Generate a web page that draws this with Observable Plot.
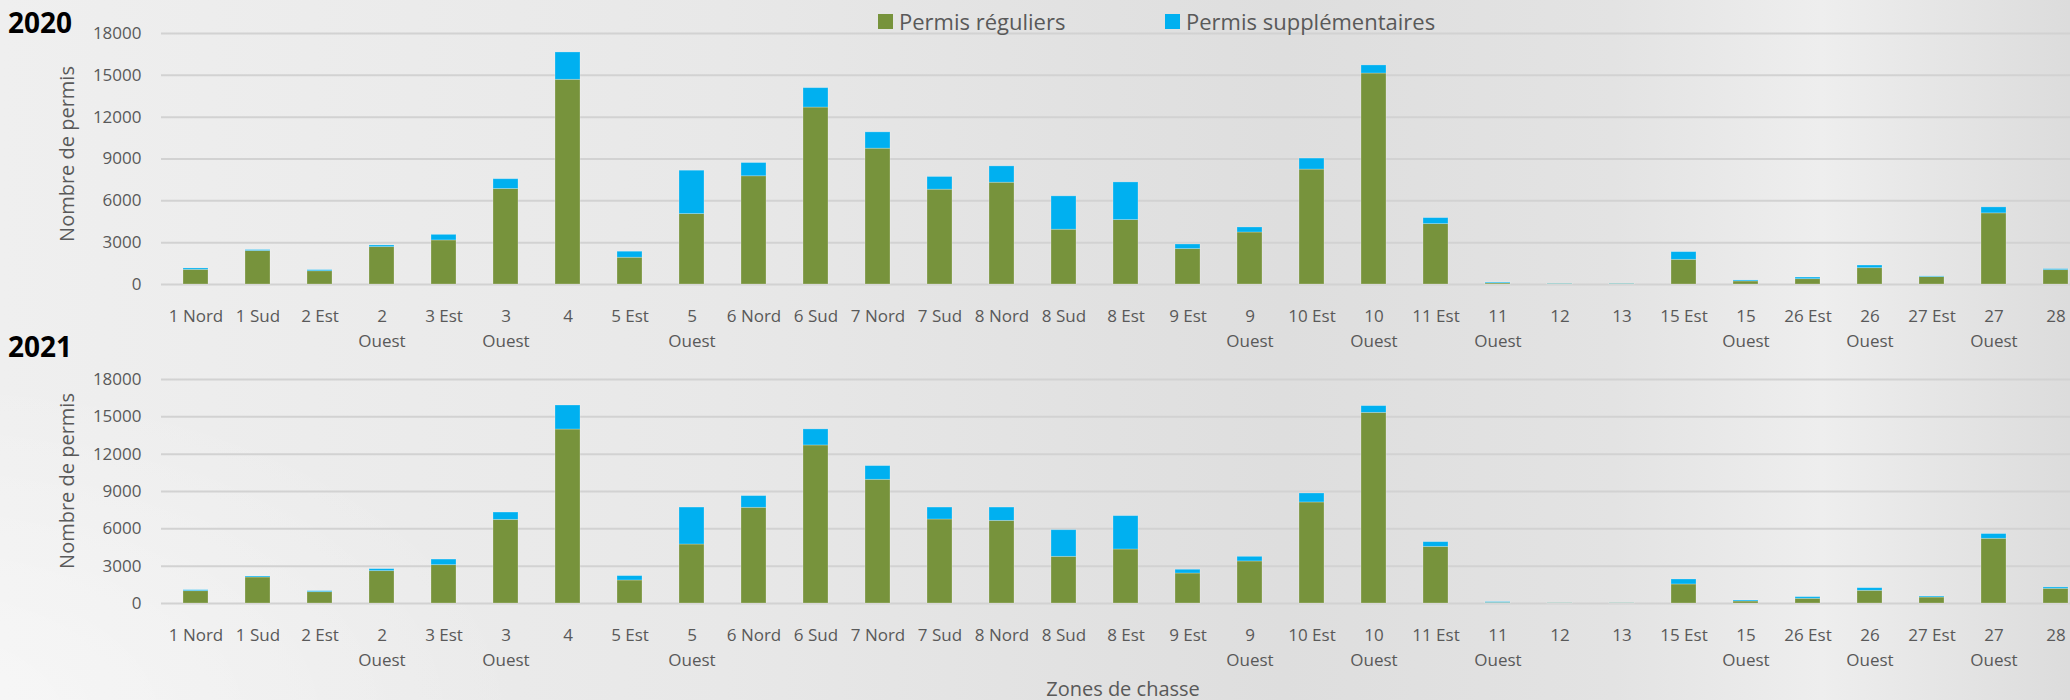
<!DOCTYPE html>
<html>
<head>
<meta charset="utf-8">
<script src="https://cdn.jsdelivr.net/npm/d3@7"></script>
<script src="https://cdn.jsdelivr.net/npm/@observablehq/plot@0.6"></script>
<style>
  html, body { margin: 0; padding: 0; width: 2070px; height: 700px; overflow: hidden; }
  body {
    position: relative;
    font-family: "Open Sans", sans-serif;
    background:
      radial-gradient(ellipse 900px 500px at -100px 720px, rgba(255,255,255,0.55), rgba(255,255,255,0) 70%),
      linear-gradient(90deg, #efefef 0%, #e8e8e8 35%, #dedede 62%, #e3e3e3 78%, #eeeeee 88%, #dcdcdc 100%);
  }
  .abs { position: absolute; white-space: nowrap; line-height: 1; }
  .title { font-weight: 700; font-size: 28px; color: #000; left: 8px; }
  .legend { font-size: 22px; color: #595959; top: 9.7px; }
  .sw { width: 15px; height: 15px; top: 14px; }
  .ylab { font-size: 20px; color: #595959; left: 67px; transform: translate(-50%, -50%) rotate(-90deg); }
  .xlab { font-size: 20px; color: #595959; top: 679px; left: 1123px; transform: translateX(-50%); }
  .chart { position: absolute; left: 0; }
</style>
</head>
<body>
<div id="c2020" class="chart" style="top:0px"></div>
<div id="c2021" class="chart" style="top:346px"></div>

<div class="abs title" style="top:8px">2020</div>
<div class="abs title" style="top:332px">2021</div>

<div class="abs sw" style="left:878px;background:#77933C"></div>
<div class="abs legend" style="left:899px">Permis réguliers</div>
<div class="abs sw" style="left:1165px;background:#00B0F0"></div>
<div class="abs legend" style="left:1186px">Permis supplémentaires</div>

<div class="abs ylab" style="top:154px">Nombre de permis</div>
<div class="abs ylab" style="top:481px">Nombre de permis</div>
<div class="abs xlab">Zones de chasse</div>

<script>
const zones = ["1 Nord","1 Sud","2 Est","2 Ouest","3 Est","3 Ouest","4","5 Est","5 Ouest",
  "6 Nord","6 Sud","7 Nord","7 Sud","8 Nord","8 Sud","8 Est","9 Est","9 Ouest","10 Est",
  "10 Ouest","11 Est","11 Ouest","12","13","15 Est","15 Ouest","26 Est","26 Ouest","27 Est",
  "27 Ouest","28"];

const reguliers2020 = [1050,2400,950,2680,3160,6850,14680,1920,5050,
  7760,12690,9740,6800,7300,3930,4620,2540,3730,8240,
  15130,4330,80,30,30,1770,220,380,1170,530,
  5100,1030];
const supplementaires2020 = [100,70,80,120,400,700,1960,430,3110,
  950,1390,1170,910,1170,2390,2700,330,360,790,
  580,430,60,20,20,550,70,120,190,50,
  430,70];

const reguliers2021 = [990,2090,910,2600,3080,6720,13980,1850,4740,
  7690,12700,9940,6750,6640,3750,4340,2410,3380,8120,
  15320,4550,50,20,20,1530,160,380,1020,480,
  5200,1180];
const supplementaires2021 = [80,80,80,160,450,590,1930,350,2970,
  940,1290,1100,960,1070,2140,2680,300,370,720,
  540,380,60,10,10,400,80,130,210,80,
  380,110];

const yTicks = [0,3000,6000,9000,12000,15000,18000];
const seriesNames = ["Permis réguliers","Permis supplémentaires"];
const seriesColors = ["#77933C","#00B0F0"];

function makeChart(reg, sup, innerH) {
  const data = [];
  zones.forEach((z, i) => {
    data.push({zone: z, serie: seriesNames[0], value: reg[i]});
    data.push({zone: z, serie: seriesNames[1], value: sup[i]});
  });
  return Plot.plot({
    width: 2090,
    height: 33 + innerH + 60,
    marginLeft: 161, marginRight: 0, marginTop: 33, marginBottom: 60,
    style: {background: "transparent", maxWidth: "none", overflow: "visible",
            fontFamily: "Open Sans, sans-serif", fontSize: "17px", color: "#595959"},
    x: {domain: zones, paddingInner: 0.6, paddingOuter: 0.3},
    y: {domain: [0, 18000]},
    color: {domain: seriesNames, range: seriesColors},
    marks: [
      Plot.ruleY(yTicks, {stroke: "#d2d2d2", strokeWidth: 2}),
      Plot.axisY({ticks: yTicks, tickSize: 0, tickPadding: 20, label: null, tickFormat: d => String(d)}),
      Plot.axisX({tickSize: 0, tickPadding: 20, label: null, lineHeight: 1.47,
                  tickFormat: d => d.replace(" Ouest", "\nOuest")}),
      Plot.barY(data, {x: "zone", y: "value", fill: "serie", stroke: "#ffffff", strokeOpacity: 0.3, strokeWidth: 0.8})
    ]
  });
}

document.getElementById("c2020").appendChild(makeChart(reguliers2020, supplementaires2020, 251));
document.getElementById("c2021").appendChild(makeChart(reguliers2021, supplementaires2021, 224));
</script>
</body>
</html>
